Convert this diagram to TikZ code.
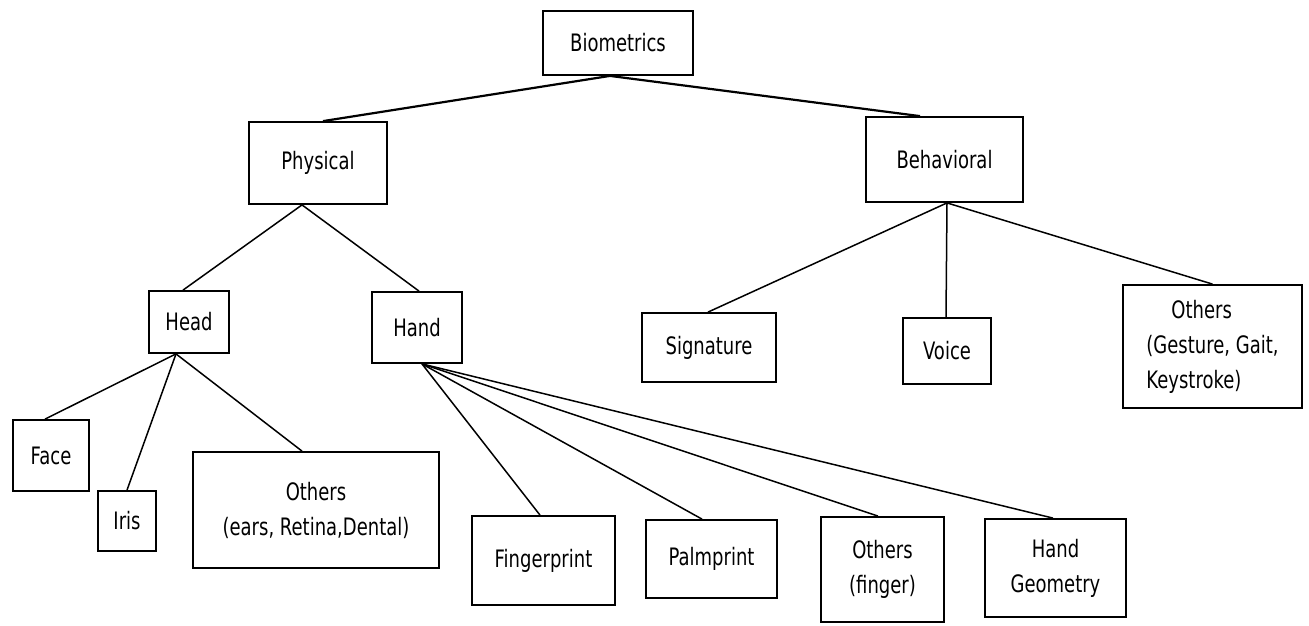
\documentclass[tikz,border=0pt]{standalone}
\usepackage{fontspec}
\setmainfont{DejaVu Sans}[FakeStretch=0.75]
\begin{document}
\begin{tikzpicture}[x=1pt,y=-1pt,
  box/.style={draw, line width=1.8pt, inner sep=0pt, align=center,
    font=\fontsize{24}{35}\selectfont},
  link/.style={line width=1.5pt},
  toplink/.style={line width=2.2pt}]
\useasboundingbox[fill=white] (0,0) rectangle (1309,625);

% level 0 and 1
\node[box, minimum width=150pt, minimum height=64pt] (bio)   at (618,43)    {Biometrics};
\node[box, minimum width=138pt, minimum height=82pt] (phys)  at (318,163)   {Physical};
\node[box, minimum width=157pt, minimum height=85pt] (beh)   at (944.5,159.5) {Behavioral};

% level 2
\node[box, minimum width=80pt, minimum height=62pt]  (head)  at (189,322)   {Head};
\node[box, minimum width=90pt, minimum height=71pt]  (hand)  at (417,327.5) {Hand};
\node[box, minimum width=134pt, minimum height=69pt] (sig)   at (709,347.5) {Signature};
\node[box, minimum width=88pt, minimum height=66pt]  (voice) at (947,351)   {Voice};
\node[box, minimum width=179pt, minimum height=123pt, align=left] (oth3) at (1212.5,346.5)
  {\hspace*{25pt}Others\\(Gesture, Gait,\\Keystroke)};

% level 3
\node[box, minimum width=76pt, minimum height=71pt]   (face) at (51,455.5)   {Face};
\node[box, minimum width=58pt, minimum height=60pt]   (iris) at (127,521)    {Iris};
\node[box, minimum width=246pt, minimum height=116pt] (oth1) at (316,510)    {Others\\(ears, Retina,Dental)};
\node[box, minimum width=143pt, minimum height=89pt]  (fing) at (543.5,560.5) {Fingerprint};
\node[box, minimum width=131pt, minimum height=78pt]  (palm) at (711.5,559)  {Palmprint};
\node[box, minimum width=123pt, minimum height=105pt] (oth2) at (882.5,569.5) {Others\\(finger)};
\node[box, minimum width=141pt, minimum height=98pt]  (hgeo) at (1055.5,568) {Hand\\Geometry};

% connectors
\draw[toplink] ([xshift=5pt]phys.north) -- ([xshift=-8pt]bio.south) -- ([xshift=-24.5pt]beh.north);

\draw[link] ([xshift=-6pt]head.north) -- ([xshift=-16pt]phys.south) -- ([xshift=2pt]hand.north);

\draw[link] ([xshift=2.5pt]beh.south) -- ([xshift=-1pt]sig.north);
\draw[link] ([xshift=2.5pt]beh.south) -- ([xshift=-1pt]voice.north);
\draw[link] ([xshift=2.5pt]beh.south) -- (oth3.north);

\draw[link] ([xshift=-13pt]head.south) -- ([xshift=-6pt]face.north);
\draw[link] ([xshift=-13pt]head.south) -- (iris.north);
\draw[link] ([xshift=-13pt]head.south) -- ([xshift=-14pt]oth1.north);

\draw[link] ([xshift=5pt]hand.south) -- ([xshift=-3.5pt]fing.north);
\draw[link] ([xshift=5pt]hand.south) -- ([xshift=-9.5pt]palm.north);
\draw[link] ([xshift=5pt]hand.south) -- ([xshift=-4.5pt]oth2.north);
\draw[link] ([xshift=5pt]hand.south) -- ([xshift=-2.5pt]hgeo.north);
\end{tikzpicture}
\end{document}
